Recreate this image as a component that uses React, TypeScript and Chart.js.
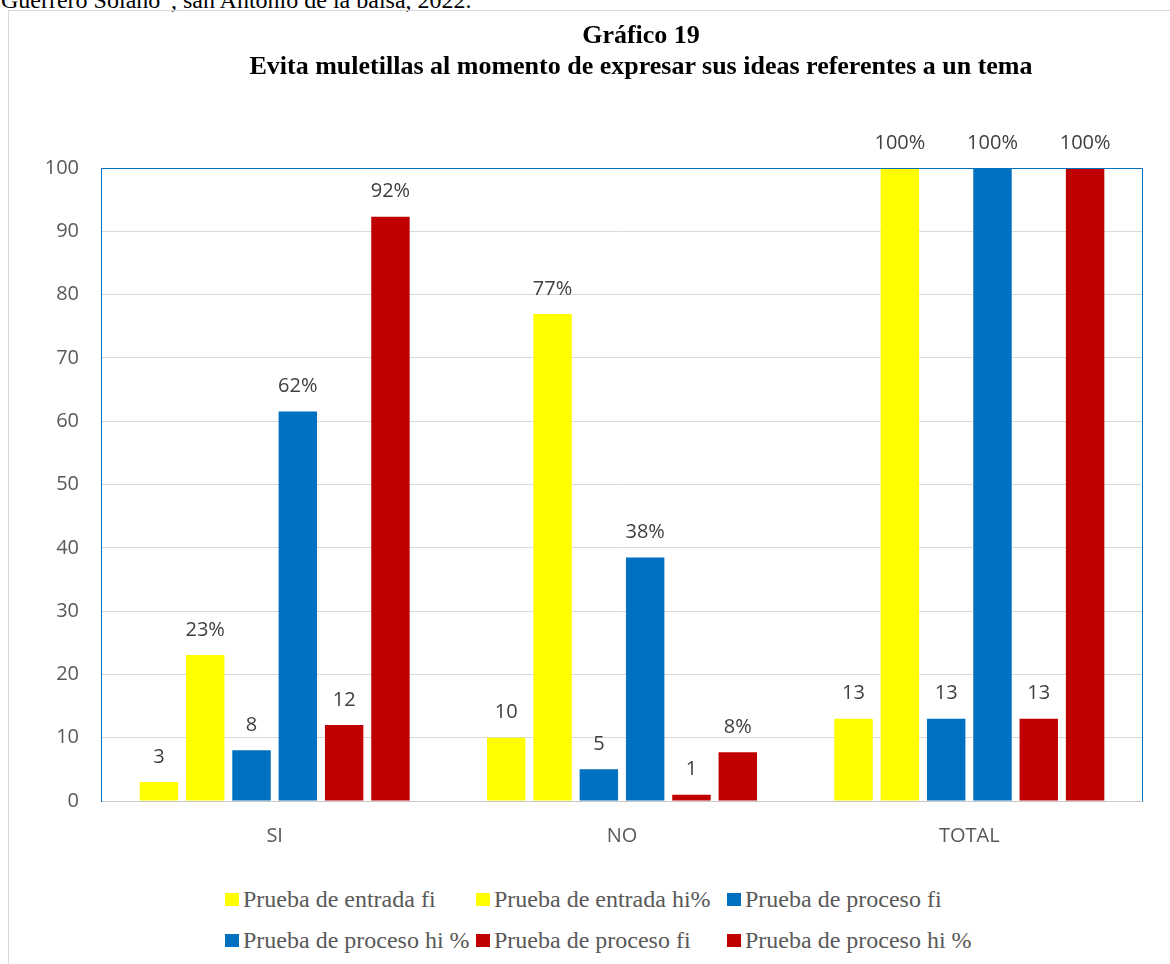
import React, { useEffect, useRef } from "react";
import { Chart, registerables } from "chart.js";

Chart.register(...registerables);

const categories = ["SI", "NO", "TOTAL"];
const entradaFi = [3, 10, 13];
const entradaHi = [23.08, 76.92, 100];
const procesoFi = [8, 5, 13];
const procesoHi = [61.54, 38.46, 100];
const proceso2Fi = [12, 1, 13];
const proceso2Hi = [92.31, 7.69, 100];
const seriesNames = [
  "Prueba de entrada fi",
  "Prueba de entrada hi%",
  "Prueba de proceso fi",
  "Prueba de proceso hi %",
  "Prueba de proceso fi",
  "Prueba de proceso hi %",
];
const seriesKinds = ["fi", "hi", "fi", "hi", "fi", "hi"];
const seriesColors = ["#FFFF00", "#FFFF00", "#0070C0", "#0070C0", "#C00000", "#C00000"];
const titleLines = ["Gráfico 19", "Evita muletillas al momento de expresar sus ideas referentes a un tema"];
const topNote = "Guerrero Solano\u201D, san Antonio de la balsa, 2022.";
const yMin = 0;
const yMax = 100;
const yStep = 10;

const LABEL_FONT = "'Open Sans', sans-serif";
const SERIF = "'Liberation Serif', 'Times New Roman', serif";

const valueLabels = {
  id: "valueLabels",
  afterDatasetsDraw(chart: any) {
    const ctx = chart.ctx;
    ctx.save();
    ctx.font = `20px ${LABEL_FONT}`;
    ctx.fillStyle = "#404040";
    ctx.textAlign = "center";
    ctx.textBaseline = "middle";
    chart.data.datasets.forEach((ds: any, i: number) => {
      const meta = chart.getDatasetMeta(i);
      meta.data.forEach((bar: any, j: number) => {
        const v = ds.data[j];
        const txt = seriesKinds[i] === "hi" ? `${Math.round(v)}%` : `${v}`;
        ctx.fillText(txt, bar.x, bar.y - 25);
      });
    });
    ctx.restore();
  },
};

const plotFrame = {
  id: "plotFrame",
  afterDraw(chart: any) {
    const { ctx, chartArea } = chart;
    const { left, right, top, bottom } = chartArea;
    ctx.save();
    ctx.lineWidth = 1;
    ctx.strokeStyle = "#0070C0";
    ctx.beginPath();
    ctx.moveTo(left + 0.5, bottom);
    ctx.lineTo(left + 0.5, top + 0.5);
    ctx.lineTo(right - 0.5, top + 0.5);
    ctx.lineTo(right - 0.5, bottom);
    ctx.stroke();
    ctx.restore();
  },
};

export default function App() {
  const ref = useRef<HTMLCanvasElement | null>(null);

  useEffect(() => {
    if (!ref.current) return;
    const datasets = [entradaFi, entradaHi, procesoFi, procesoHi, proceso2Fi, proceso2Hi].map((d, i) => ({
      label: seriesNames[i],
      data: d,
      backgroundColor: seriesColors[i],
      borderWidth: 0,
      categoryPercentage: 0.8,
      barPercentage: 0.83,
    }));
    const chart = new Chart(ref.current, {
      type: "bar",
      data: { labels: categories, datasets },
      plugins: [valueLabels, plotFrame],
      options: {
        responsive: false,
        animation: false,
        layout: { padding: { left: 36, right: 130, top: 157, bottom: 23 } },
        plugins: {
          legend: { display: false },
          tooltip: { enabled: false },
          title: { display: false },
        },
        scales: {
          x: {
            grid: { display: false, drawTicks: false },
            border: { color: "#C8C8C8", width: 1 },
            ticks: { color: "#595959", font: { family: LABEL_FONT, size: 20 }, padding: 23 },
            afterFit: (axis: any) => {
              axis.height = 47;
            },
          },
          y: {
            min: yMin,
            max: yMax,
            grid: { color: "#D9D9D9", lineWidth: 1, drawTicks: false },
            border: { color: "#0070C0", width: 1 },
            ticks: { stepSize: yStep, color: "#595959", font: { family: LABEL_FONT, size: 20 }, padding: 22 },
            afterFit: (axis: any) => {
              axis.width = 56;
            },
          },
        },
      },
    });
    return () => chart.destroy();
  }, []);

  const legendCols = [225, 476, 727];
  const legendRows = [899.5, 940];

  return (
    <div style={{ position: "fixed", left: 0, top: 0, width: 1170, height: 964, overflow: "hidden", background: "#fff" }}>
      <div
        style={{
          position: "absolute",
          left: 1,
          top: -12,
          fontFamily: SERIF,
          fontSize: 24,
          lineHeight: "24px",
          color: "#000",
          whiteSpace: "nowrap",
        }}
      >
        {topNote}
      </div>
      <div
        style={{
          position: "absolute",
          left: 8,
          top: 10,
          width: 1300,
          height: 1000,
          border: "1px solid #D9D9D9",
          boxSizing: "border-box",
        }}
      />
      <canvas ref={ref} width={1264} height={860} style={{ position: "absolute", left: 9, top: 11, width: 1264, height: 860 }} />
      <div
        style={{
          position: "absolute",
          left: 0,
          top: 19,
          width: 1282,
          textAlign: "center",
          fontFamily: SERIF,
          fontWeight: "bold",
          fontSize: 26,
          lineHeight: "31px",
          color: "#000",
          whiteSpace: "nowrap",
        }}
      >
        {titleLines.map((t, i) => (
          <div key={i}>{t}</div>
        ))}
      </div>
      {seriesNames.map((name, i) => {
        const row = Math.floor(i / 3);
        const col = i % 3;
        return (
          <div
            key={i}
            style={{
              position: "absolute",
              left: legendCols[col],
              top: legendRows[row] - 14,
              height: 28,
              display: "flex",
              alignItems: "center",
              whiteSpace: "nowrap",
              fontFamily: SERIF,
              fontSize: 24,
              color: "#595959",
            }}
          >
            <span style={{ display: "inline-block", width: 14, height: 13, background: seriesColors[i], marginRight: 4 }} />
            <span>{name}</span>
          </div>
        );
      })}
    </div>
  );
}
